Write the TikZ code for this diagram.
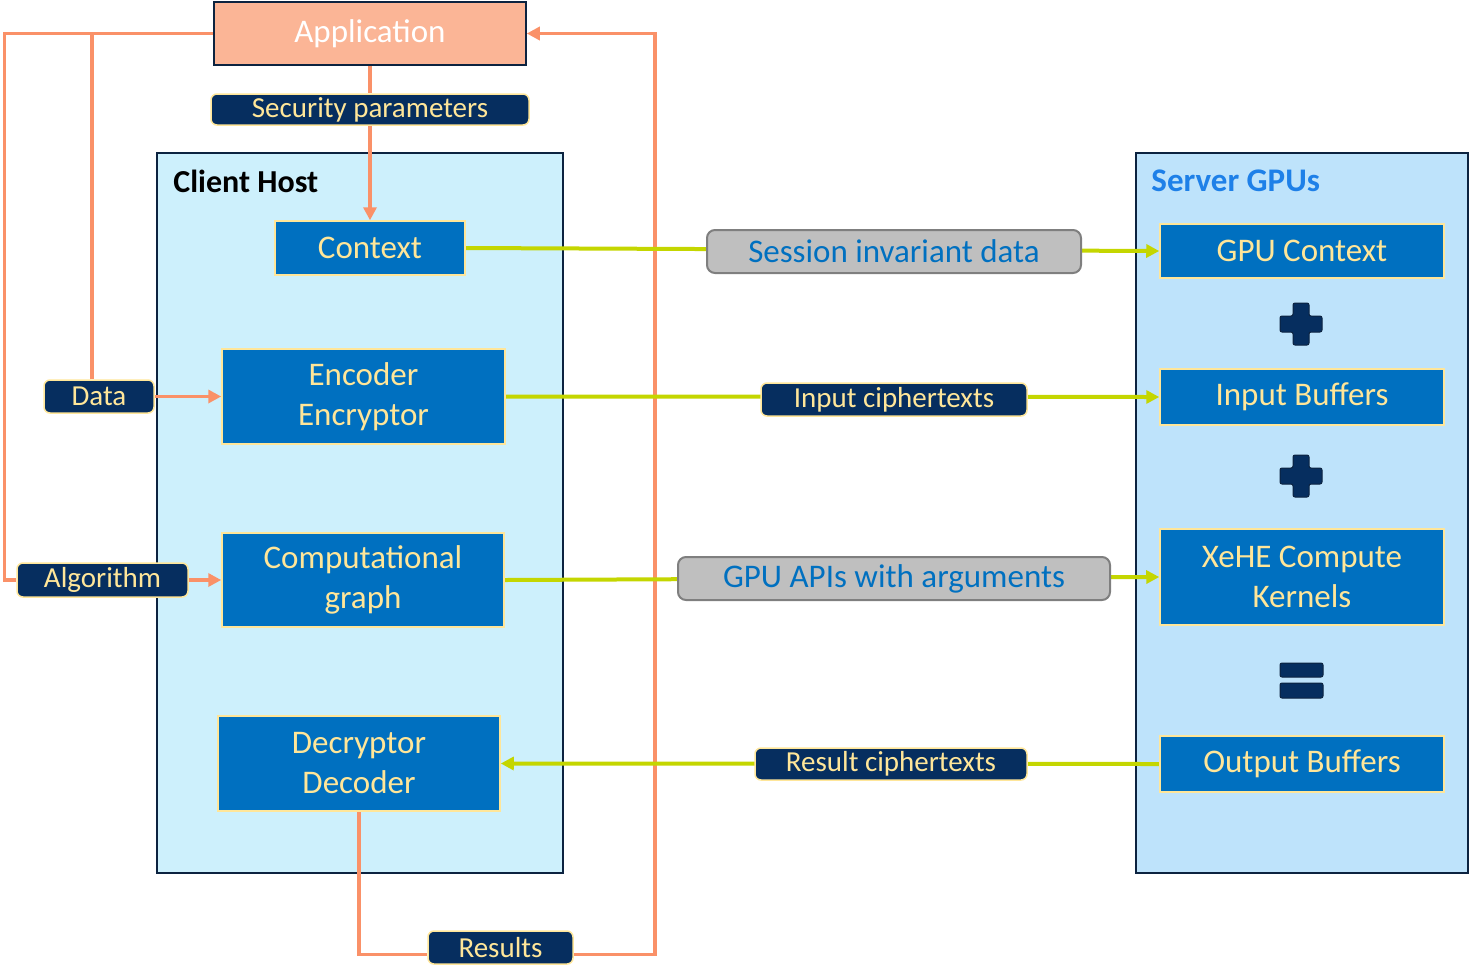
\documentclass[tikz,border=0pt]{standalone}
\usepackage{fontspec}
\setmainfont{Carlito}
\usetikzlibrary{arrows.meta}
\definecolor{appfill}{HTML}{FBB596}
\definecolor{navy}{HTML}{062E5F}
\definecolor{cream}{HTML}{FFE699}
\definecolor{boxblue}{HTML}{0070C0}
\definecolor{clientfill}{HTML}{CDF0FC}
\definecolor{serverfill}{HTML}{BEE3FB}
\definecolor{frame}{HTML}{0C2340}
\definecolor{orangeline}{HTML}{FA9168}
\definecolor{greenline}{HTML}{C4D600}
\definecolor{grayfill}{HTML}{BFBFBF}
\definecolor{grayedge}{HTML}{7F7F7F}
\definecolor{titleblue}{HTML}{1E80E8}
\pgfdeclarelayer{bg}\pgfdeclarelayer{lines}\pgfsetlayers{bg,lines,main}
\begin{document}
\begin{tikzpicture}[x=0.5pt,y=-0.5pt,
 blk/.style={draw=cream, line width=0.75pt, fill=boxblue, text=cream, font=\fontsize{16.5}{20}\selectfont, align=center, inner sep=0pt},
 tag/.style={draw=cream, line width=0.75pt, fill=navy, text=cream, rounded corners=3pt, font=\fontsize{14.5}{16}\selectfont, inner sep=0pt},
 gtag/.style={draw=grayedge, line width=1pt, fill=grayfill, text=boxblue, rounded corners=4pt, font=\fontsize{16.5}{18}\selectfont, inner sep=0pt},
 cont/.style={draw=frame, line width=1pt, inner sep=0pt},
 oline/.style={draw=orangeline, line width=1.75pt},
 gline/.style={draw=greenline, line width=2pt},
 otip/.style={-{Triangle[length=6.5pt,width=6.5pt]}},
 sym/.style={fill=navy, draw=frame, line width=0.5pt, rounded corners=1pt}
]
\useasboundingbox (0,0) rectangle (1474,971);

% containers
\begin{pgfonlayer}{bg}
\node[cont, fill=clientfill, minimum width=203pt, minimum height=360pt] (client) at (360,513) {};
\node[cont, fill=serverfill, minimum width=166pt, minimum height=360pt] (server) at (1302,513) {};
\end{pgfonlayer}
\node[anchor=west, inner sep=0pt, font=\fontsize{16}{18}\selectfont\bfseries] (clienttitle) at (173,181) {Client Host};
\node[anchor=west, inner sep=0pt, text=titleblue, font=\fontsize{16.5}{18}\selectfont\bfseries] (servertitle) at (1151,181) {Server GPUs};

% application
\node[draw=frame, line width=0.75pt, fill=appfill, text=white, font=\fontsize{16.5}{20}\selectfont, minimum width=156pt, minimum height=31.5pt, inner sep=0pt] (app) at (370,33.5) {Application};
\node[tag, minimum width=159pt, minimum height=15.5pt] (sec) at (370,109.5) {Security parameters};

% client blocks
\node[blk, minimum width=95pt, minimum height=27pt] (ctx) at (370,248) {Context};
\node[blk, minimum width=141.5pt, minimum height=47.5pt] (enc) at (363.5,396.5) {Encoder\\Encryptor};
\node[blk, minimum width=141pt, minimum height=47pt] (comp) at (363,580) {Computational\\graph};
\node[blk, minimum width=141pt, minimum height=47.5pt] (dec) at (359,763.5) {Decryptor\\Decoder};

% inputs / outputs
\node[tag, minimum width=55pt, minimum height=16.5pt] (data) at (99,396.5) {Data};
\node[tag, minimum width=85.5pt, minimum height=17pt] (algo) at (102.5,580) {Algorithm};
\node[tag, minimum width=72.5pt, minimum height=16.5pt] (results) at (500.5,947.5) {Results};

% server blocks
\node[blk, minimum width=142pt, minimum height=27pt] (gpuctx) at (1302,251) {GPU Context};
\node[blk, minimum width=142pt, minimum height=28pt] (inbuf) at (1302,397) {Input Buffers};
\node[blk, minimum width=142pt, minimum height=48pt] (xehe) at (1302,577) {XeHE Compute\\Kernels};
\node[blk, minimum width=142pt, minimum height=28pt] (outbuf) at (1302,764) {Output Buffers};

% transfer labels
\node[gtag, minimum width=187pt, minimum height=21.5pt] (sess) at (894,251.5) {Session invariant data};
\node[tag, minimum width=133pt, minimum height=16.5pt] (inct) at (894,399.5) {Input ciphertexts};
\node[gtag, minimum width=216pt, minimum height=21.5pt] (apis) at (894,578.5) {GPU APIs with arguments};
\node[tag, minimum width=136pt, minimum height=16pt] (resct) at (891,764) {Result ciphertexts};

% plus / equals symbols
\draw[sym] (1293,303) -- (1309,303) -- (1309,316) -- (1322,316) -- (1322,332) -- (1309,332) -- (1309,345) -- (1293,345) -- (1293,332) -- (1280,332) -- (1280,316) -- (1293,316) -- cycle;
\draw[sym] (1293,455) -- (1309,455) -- (1309,468) -- (1322,468) -- (1322,484) -- (1309,484) -- (1309,497) -- (1293,497) -- (1293,484) -- (1280,484) -- (1280,468) -- (1293,468) -- cycle;
\draw[sym] (1280,663) rectangle (1323,677);
\draw[sym] (1280,683) rectangle (1323,698);

% connectors
\begin{pgfonlayer}{lines}
\draw[oline] (app.west) -- ++(-104.5pt,0) |- (algo.west);
\draw[oline] ([xshift=-3.5pt]data.north) -- ([xshift=-3.5pt]data.north |- app.west);
\draw[oline, otip] (data.east) -- (enc.west);
\draw[oline, otip] (algo.east) -- (comp.west);
\draw[oline] (app.south) -- (sec.north);
\draw[oline, otip] (sec.south) -- (ctx.north);
\draw[oline] (dec.south) |- ([yshift=-3.5pt]results.west);
\draw[oline, otip] ([yshift=-3.5pt]results.east) -- ++(40.5pt,0) |- (app.east);

\draw[gline, otip] (ctx.east) -- (gpuctx.west);
\draw[gline, otip] (enc.east) -- (inbuf.west);
\draw[gline, otip] (comp.east) -- (xehe.west);
\draw[gline, otip] (outbuf.west) -- (dec.east);
\end{pgfonlayer}
\end{tikzpicture}
\end{document}
